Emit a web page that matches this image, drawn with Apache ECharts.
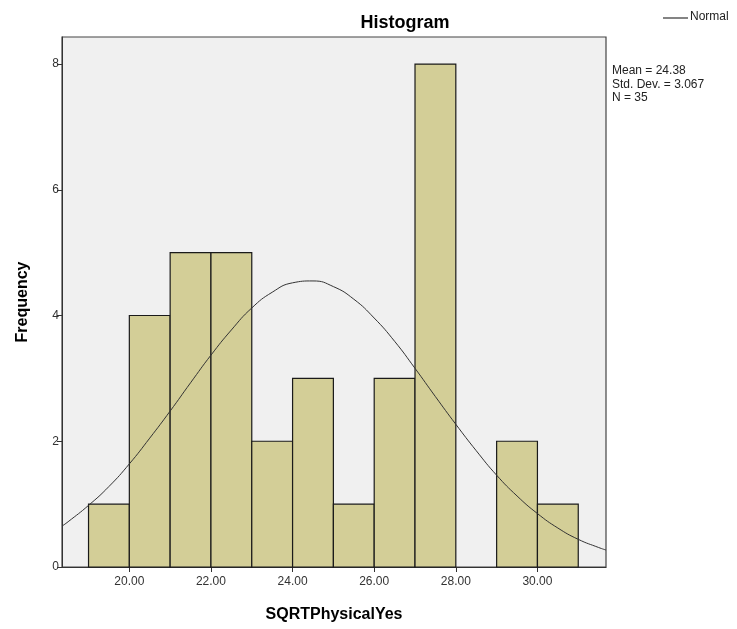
<!DOCTYPE html>
<html><head><meta charset="utf-8">
<script src="https://cdn.jsdelivr.net/npm/echarts@6/dist/echarts.min.js"></script>
<style>html,body{margin:0;padding:0;background:#fff}#c{width:737px;height:629px}</style>
</head><body><div id="c"></div>
<script>
// Histogram bins (lower edge, upper edge) and frequencies
const binStarts = [19,20,21,22,23,24,25,26,27,28,29,30];
const binWidth = 1;
const frequencies = [1,4,5,5,2,3,1,3,8,0,2,1];
// Normal curve (x, height)
const curveX = [18.35,18.5,19,19.5,20,20.5,21,21.5,22,22.5,23,23.5,24,24.5,25,25.5,26,26.5,27,27.5,28,28.5,29,29.5,30,30.5,31,31.5,31.68];
const curveY = [0.65,0.72,0.98,1.28,1.64,2.05,2.48,2.93,3.37,3.77,4.12,4.37,4.52,4.55,4.46,4.26,3.96,3.59,3.16,2.71,2.27,1.85,1.46,1.13,0.85,0.62,0.44,0.31,0.27];
const xTicks = [20,22,24,26,28,30];
const yTicks = [0,2,4,6,8];
const statsLines = ['Mean = 24.38','Std. Dev. = 3.067','N = 35'];

const chart = echarts.init(document.getElementById('c'), null, {renderer:'canvas'});
const font = 'Liberation Sans, Arial, sans-serif';
chart.setOption({
  animation:false,
  backgroundColor:'#fff',
  title:{text:'Histogram', left:400, top:9, textAlign:'center',
    textStyle:{fontFamily:font, fontSize:18, fontWeight:'bold', color:'#000'}},
  graphic:[
    {type:'line', shape:{x1:663,y1:18,x2:688,y2:18}, style:{stroke:'#333',lineWidth:1.2}},
    {type:'text', left:690, top:11, style:{text:'Normal', fontFamily:font, fontSize:12, fill:'#222'}},
    {type:'text', left:612, top:64, style:{text:statsLines.join('\n'), lineHeight:13.5, fontFamily:font, fontSize:12, fill:'#222'}}
  ],
  grid:{left:62, top:37, right:131, bottom:62, show:true, backgroundColor:'#f0f0f0', borderColor:'#444', borderWidth:1.2},
  xAxis:{type:'value', min:18.35, max:31.68,
    name:'SQRTPhysicalYes', nameLocation:'middle', nameGap:40,
    nameTextStyle:{fontFamily:font, fontSize:16, fontWeight:'bold', color:'#000'},
    axisLine:{show:true, onZero:false, lineStyle:{color:'#333'}},
    axisTick:{show:true, length:5, customValues:xTicks, lineStyle:{color:'#333'}},
    axisLabel:{customValues:xTicks, formatter:v=>v.toFixed(2), fontFamily:font, fontSize:12, color:'#333', margin:9},
    splitLine:{show:false}},
  yAxis:{type:'value', min:0, max:8.43,
    name:'Frequency', nameLocation:'middle', nameGap:31, nameRotate:90,
    nameTextStyle:{fontFamily:font, fontSize:16, fontWeight:'bold', color:'#000'},
    axisLine:{show:true, lineStyle:{color:'#333'}},
    axisTick:{show:true, length:5, customValues:yTicks, lineStyle:{color:'#333'}},
    axisLabel:{customValues:yTicks, fontFamily:font, fontSize:12, color:'#333', margin:3},
    splitLine:{show:false}},
  series:[
    {type:'custom',
     data: binStarts.map((s,i)=>[s, s+binWidth, frequencies[i]]),
     renderItem:(params, api)=>{
       const f = api.value(2);
       if (!f) return;
       const p0 = api.coord([api.value(0), f]);
       const p1 = api.coord([api.value(1), 0]);
       return {type:'rect', shape:{x:p0[0], y:p0[1], width:p1[0]-p0[0], height:p1[1]-p0[1]},
         style:{fill:'#d3ce97', stroke:'#1a1a1a', lineWidth:1.2}};
     },
     encode:{x:[0,1], y:2}, z:2},
    {type:'line', data: curveX.map((x,i)=>[x, curveY[i]]), smooth:true, showSymbol:false,
     lineStyle:{color:'#333', width:1}, z:3, clip:true}
  ]
});
</script></body></html>
